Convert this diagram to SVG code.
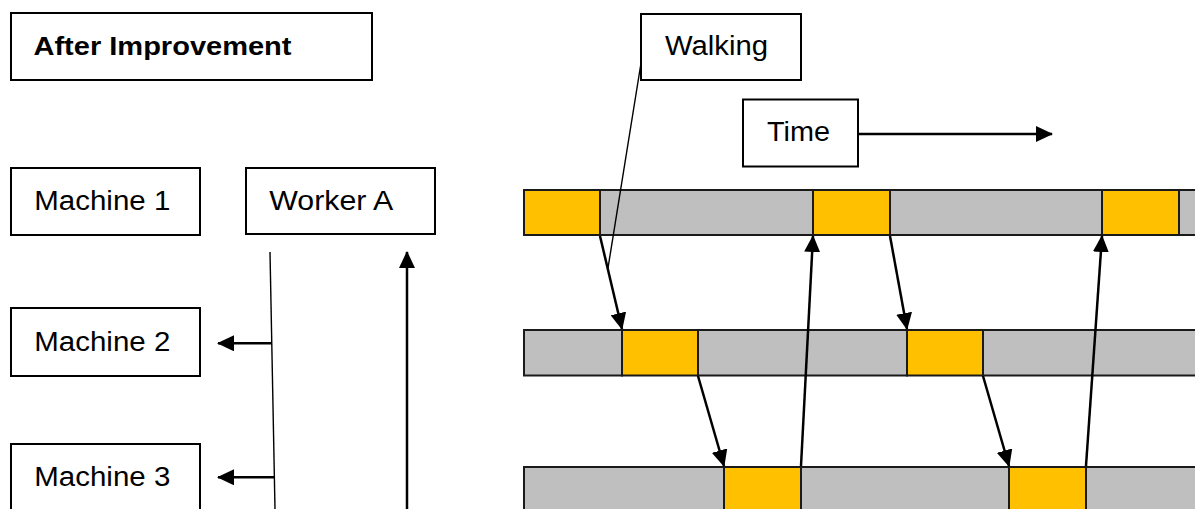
<svg xmlns="http://www.w3.org/2000/svg" width="1195" height="509" viewBox="0 0 1195 509">
<style>
.box{fill:#fff;stroke:#000;stroke-width:2}
.lbl{font-family:"Liberation Sans",Arial,sans-serif;font-size:27px;fill:#000}
.ttl{font-family:"Liberation Sans",Arial,sans-serif;font-size:25px;font-weight:bold;fill:#000}
.g{fill:#BFBFBF;stroke:#1a1a1a;stroke-width:2}
.o{fill:#FFC000;stroke:#1a1a1a;stroke-width:2}
.arr{stroke:#000;stroke-width:2.5;fill:none;marker-end:url(#ah)}
.thin{stroke:#000;stroke-width:1.4;fill:none}
</style>
<defs>
<marker id="ah" markerUnits="userSpaceOnUse" markerWidth="17" markerHeight="16" refX="16" refY="8" orient="auto">
<path d="M0,0 L17,8 L0,16 z" fill="#000"/>
</marker>
</defs>
<g id="title"><rect class="box" x="11" y="13" width="361" height="67"/><text class="ttl" x="33.5" y="55" textLength="258" lengthAdjust="spacingAndGlyphs">After Improvement</text></g>
<g id="machine1"><rect class="box" x="11" y="168" width="189" height="67"/><text class="lbl" x="34.3" y="209.5" textLength="136" lengthAdjust="spacingAndGlyphs">Machine 1</text></g>
<g id="workerA"><rect class="box" x="246" y="168" width="189" height="66"/><text class="lbl" x="269.3" y="210" textLength="124" lengthAdjust="spacingAndGlyphs">Worker A</text></g>
<g id="machine2"><rect class="box" x="11" y="308" width="189" height="68"/><text class="lbl" x="34.3" y="350.7" textLength="136" lengthAdjust="spacingAndGlyphs">Machine 2</text></g>
<g id="machine3"><rect class="box" x="11" y="444" width="189" height="80"/><text class="lbl" x="34.3" y="486" textLength="136" lengthAdjust="spacingAndGlyphs">Machine 3</text></g>
<g id="bar1">
<rect class="o" x="524" y="190" width="76" height="45"/>
<rect class="g" x="600" y="190" width="213" height="45"/>
<rect class="o" x="813" y="190" width="77" height="45"/>
<rect class="g" x="890" y="190" width="212" height="45"/>
<rect class="o" x="1102" y="190" width="77" height="45"/>
<rect class="g" x="1179" y="190" width="30" height="45"/>
</g>
<g id="bar2">
<rect class="g" x="524" y="330" width="98" height="45.5"/>
<rect class="o" x="622" y="330" width="76" height="45.5"/>
<rect class="g" x="698" y="330" width="209" height="45.5"/>
<rect class="o" x="907" y="330" width="76" height="45.5"/>
<rect class="g" x="983" y="330" width="230" height="45.5"/>
</g>
<g id="bar3">
<rect class="g" x="524" y="467" width="200" height="50"/>
<rect class="o" x="724" y="467" width="77" height="50"/>
<rect class="g" x="801" y="467" width="208" height="50"/>
<rect class="o" x="1009" y="467" width="77" height="50"/>
<rect class="g" x="1086" y="467" width="130" height="50"/>
</g>
<g id="walking"><rect class="box" x="641" y="14" width="160" height="66"/><text class="lbl" x="665" y="55" textLength="103" lengthAdjust="spacingAndGlyphs">Walking</text></g>
<g id="time"><rect class="box" x="743" y="99.5" width="115" height="67"/><text class="lbl" x="767" y="140.5" textLength="63" lengthAdjust="spacingAndGlyphs">Time</text></g>
<g id="connectors">
<line class="arr" x1="859" y1="134" x2="1052" y2="134"/>
<line class="thin" x1="270" y1="252" x2="275" y2="509"/>
<line class="arr" x1="272" y1="343.3" x2="218" y2="343.3"/>
<line class="arr" x1="274.5" y1="477.3" x2="218" y2="477.3"/>
<line class="arr" x1="407" y1="509" x2="407" y2="252"/>
<line class="arr" x1="600" y1="236" x2="622" y2="329"/>
<line class="arr" x1="698" y1="376" x2="724" y2="466"/>
<line class="arr" x1="801" y1="466" x2="813" y2="236"/>
<line class="arr" x1="890" y1="236" x2="907" y2="329"/>
<line class="arr" x1="983" y1="376" x2="1009" y2="466"/>
<line class="arr" x1="1086" y1="466" x2="1102" y2="236"/>
<line class="thin" x1="640.7" y1="65" x2="608" y2="268"/>
</g>
</svg>
